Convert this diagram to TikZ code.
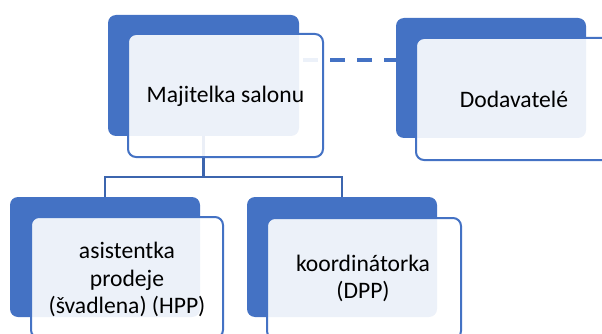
\documentclass[tikz,border=0pt]{standalone}
\usepackage{fontspec}
\setmainfont{Carlito}
\usetikzlibrary{calc}
\definecolor{accent}{HTML}{4472C4}
\definecolor{connc}{HTML}{3C65AE}
\tikzset{
  backbox/.style={anchor=north west, inner sep=0pt, outer sep=0pt, fill=accent, rounded corners=8pt},
  frontbox/.style={anchor=north west, inner sep=0pt, outer sep=0pt, fill=white, fill opacity=0.9, draw=accent, line width=2pt, rounded corners=8pt},
  lbl/.style={font=\fontsize{23.6pt}{27.5pt}\selectfont, align=center, text=black, inner sep=0pt},
  conn/.style={draw=connc, line width=2.5pt},
  dashconn/.style={draw=accent, line width=4pt, dash pattern=on 15pt off 12pt, dash phase=23pt}
}
\begin{document}
\begin{tikzpicture}[x=1pt,y=-1pt]
\useasboundingbox (0,0) rectangle (602,334);
\clip (0,0) rectangle (602,334);
% back boxes
\node[backbox, minimum width=191pt, minimum height=121pt] (mb) at (108,15) {};
\node[backbox, minimum width=190pt, minimum height=120pt] (db) at (396,18) {};
\node[backbox, minimum width=190pt, minimum height=120pt] (ab) at (10,197) {};
\node[backbox, minimum width=190pt, minimum height=120pt] (kb) at (247,197) {};
% connectors
\coordinate (dstart) at ($(mb.north east)+(0,45)$);
\draw[dashconn] (dstart) -- (db.west |- dstart);
\draw[conn] (mb.south) -- ++(0,41) -| (ab.north);
\draw[conn] (mb.south) -- ++(0,41) -| (kb.north);
% front boxes
\node[frontbox, minimum width=195pt, minimum height=123pt] (mf) at (128,34) {};
\node[frontbox, minimum width=196pt, minimum height=122pt] (df) at (416,38) {};
\node[frontbox, minimum width=192pt, minimum height=121pt] (af) at (31,217) {};
\node[frontbox, minimum width=194pt, minimum height=121pt] (kf) at (267,218) {};
% labels
\node[lbl] (mt) at ($(mf.center)+(0,1)$) {Majitelka salonu};
\node[lbl] (dt) at ($(df.center)+(0,0)$) {Dodavatelé};
\node[lbl] (at) at ($(af.center)+(0,2)$) {asistentka\\prodeje\\(švadlena) (HPP)};
\node[lbl] (kt) at ($(kf.center)+(-1,0)$) {koordinátorka\\(DPP)};
\end{tikzpicture}
\end{document}
